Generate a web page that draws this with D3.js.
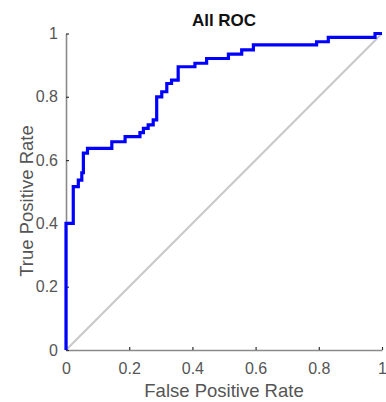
<!DOCTYPE html>
<html>
<head>
<meta charset="utf-8">
<script src="https://cdn.jsdelivr.net/npm/d3@7"></script>
<style>
  body { margin: 0; background: #fff; }
  svg { display: block; font-family: "Liberation Sans", Arial, sans-serif; }
  .axis .domain { stroke: #8a8a8a; stroke-width: 1.6px; }
  .axis .tick line { stroke: #333; stroke-width: 1.2px; }
  .axis .tick text { fill: #555; font-size: 16px; }
</style>
</head>
<body>
<svg id="chart" width="386" height="402"></svg>
<script>
// ROC points
const fpr = [0, 0, 0.023, 0.023, 0.039, 0.039, 0.05, 0.05, 0.055, 0.055, 0.068, 0.068,
  0.145, 0.145, 0.187, 0.187, 0.234, 0.234, 0.245, 0.245, 0.26, 0.26, 0.276, 0.276,
  0.287, 0.287, 0.303, 0.303, 0.319, 0.319, 0.334, 0.334, 0.355, 0.355, 0.408, 0.408,
  0.445, 0.445, 0.514, 0.514, 0.556, 0.556, 0.593, 0.593, 0.793, 0.793, 0.83, 0.83,
  0.978, 0.978, 1];
const tpr = [0, 0.40, 0.40, 0.516, 0.516, 0.537, 0.537, 0.56, 0.56, 0.622, 0.622, 0.637,
  0.637, 0.658, 0.658, 0.674, 0.674, 0.687, 0.687, 0.70, 0.70, 0.711, 0.711, 0.727,
  0.727, 0.80, 0.80, 0.816, 0.816, 0.842, 0.842, 0.853, 0.853, 0.895, 0.895, 0.906,
  0.906, 0.921, 0.921, 0.935, 0.935, 0.948, 0.948, 0.964, 0.964, 0.974, 0.974, 0.988,
  0.988, 1, 1];
const tickVals = [0, 0.2, 0.4, 0.6, 0.8, 1];
const tickLabels = ["0", "0.2", "0.4", "0.6", "0.8", "1"];

const svg = d3.select("#chart");
const plotL = 66, plotR = 382, plotT = 33.5, plotB = 350;

const x = d3.scaleLinear().domain([0, 1]).range([plotL, plotR]);
const y = d3.scaleLinear().domain([0, 1]).range([plotB, plotT]);

// chance line
svg.append("line")
  .attr("x1", x(0)).attr("y1", y(0))
  .attr("x2", x(1)).attr("y2", y(1))
  .attr("stroke", "#c8c8c8")
  .attr("stroke-width", 2);

svg.append("g")
  .attr("class", "axis")
  .attr("transform", `translate(0,${plotB})`)
  .call(d3.axisBottom(x).tickValues(tickVals)
    .tickFormat((d, i) => tickLabels[i])
    .tickSizeInner(-3).tickSizeOuter(0).tickPadding(13));

svg.append("g")
  .attr("class", "axis")
  .attr("transform", `translate(${plotL},0)`)
  .call(d3.axisLeft(y).tickValues(tickVals)
    .tickFormat((d, i) => tickLabels[i])
    .tickSizeInner(-3).tickSizeOuter(0).tickPadding(8));

const pts = fpr.map((f, i) => [f, tpr[i]]);
svg.append("path")
  .datum(pts)
  .attr("fill", "none")
  .attr("stroke", "#0000ff")
  .attr("stroke-width", 3.2)
  .attr("stroke-linejoin", "miter")
  .attr("d", d3.line().x(d => x(d[0])).y(d => y(d[1])));

svg.append("text")
  .attr("x", (plotL + plotR) / 2)
  .attr("y", 26)
  .attr("text-anchor", "middle")
  .attr("font-size", 17)
  .attr("font-weight", "bold")
  .attr("fill", "#111")
  .text("All ROC");

svg.append("text")
  .attr("x", (plotL + plotR) / 2)
  .attr("y", 397)
  .attr("text-anchor", "middle")
  .attr("font-size", 18.5)
  .attr("fill", "#555")
  .text("False Positive Rate");

svg.append("text")
  .attr("transform", `translate(33,201) rotate(-90)`)
  .attr("text-anchor", "middle")
  .attr("font-size", 18.5)
  .attr("fill", "#555")
  .text("True Positive Rate");
</script>
</body>
</html>
